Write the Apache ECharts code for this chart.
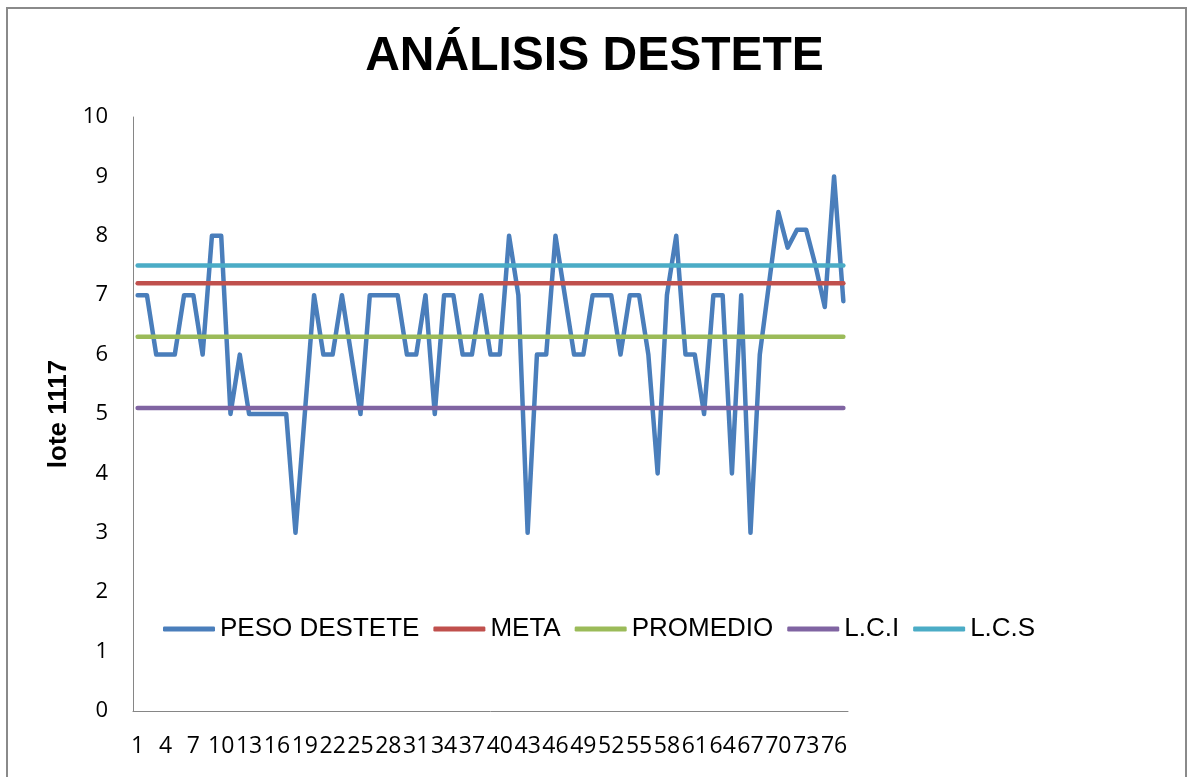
<!DOCTYPE html>
<html>
<head>
<meta charset="utf-8">
<title>ANÁLISIS DESTETE</title>
<script src="https://cdn.jsdelivr.net/npm/echarts/dist/echarts.min.js"></script>
<style>
  html, body { margin: 0; padding: 0; background: #fff; }
  #chart { width: 1189px; height: 777px; }
</style>
</head>
<body>
<div id="chart"></div>
<script>
// valores
const lotes = Array.from({ length: 77 }, (_, i) => String(i + 1));
const pesoDestete = [
  7, 7, 6, 6, 6, 7, 7, 6, 8, 8,
  5, 6, 5, 5, 5, 5, 5, 3, 5, 7,
  6, 6, 7, 6, 5, 7, 7, 7, 7, 6,
  6, 7, 5, 7, 7, 6, 6, 7, 6, 6,
  8, 7, 3, 6, 6, 8, 7, 6, 6, 7,
  7, 7, 6, 7, 7, 6, 4, 7, 8, 6,
  6, 5, 7, 7, 4, 7, 3, 6, 7.2, 8.4,
  7.8, 8.1, 8.1, 7.5, 6.8, 9, 6.9
];
const meta = 7.2;
const promedio = 6.3;
const lci = 5.1;
const lcs = 7.5;

const chart = echarts.init(document.getElementById('chart'));

function lineSeries(name, data, color) {
  return {
    name: name,
    type: 'line',
    data: data,
    showSymbol: false,
    symbol: 'none',
    color: color,
    lineStyle: { width: 4.5, color: color, cap: 'round', join: 'round' },
    emphasis: { disabled: true }
  };
}

const option = {
  animation: false,
  backgroundColor: '#fff',
  title: {
    text: 'ANÁLISIS DESTETE',
    left: 'center',
    top: 28,
    textStyle: {
      fontFamily: 'Liberation Sans, Arial, sans-serif',
      fontSize: 48,
      fontWeight: 'bold',
      color: '#000'
    }
  },
  legend: {
    left: 158,
    top: 611,
    itemWidth: 52,
    itemHeight: 5,
    itemGap: 14,
    icon: 'roundRect',
    textStyle: {
      fontFamily: 'Liberation Sans, Arial, sans-serif',
      fontSize: 26,
      color: '#000'
    },
    data: ['PESO DESTETE', 'META', 'PROMEDIO', 'L.C.I', 'L.C.S']
  },
  grid: { left: 133, right: 341, top: 117, bottom: 66 },
  xAxis: {
    type: 'category',
    data: lotes,
    boundaryGap: true,
    axisLine: { lineStyle: { color: '#868686', width: 1 } },
    axisTick: { show: false },
    axisLabel: {
      interval: 2,
      margin: 24,
      fontFamily: 'Open Sans, sans-serif',
      fontSize: 23,
      color: '#000'
    }
  },
  yAxis: {
    type: 'value',
    min: 0,
    max: 10,
    interval: 1,
    name: 'lote 1117',
    nameLocation: 'middle',
    nameRotate: 90,
    nameGap: 46,
    nameTextStyle: {
      fontFamily: 'Liberation Sans, Arial, sans-serif',
      fontSize: 26,
      fontWeight: 'bold',
      color: '#000'
    },
    axisLine: { show: true, lineStyle: { color: '#868686', width: 1 } },
    axisTick: { show: false },
    splitLine: { show: false },
    axisLabel: {
      margin: 25,
      fontFamily: 'Open Sans, sans-serif',
      fontSize: 22,
      color: '#000'
    }
  },
  graphic: [{
    type: 'rect',
    shape: { x: 7, y: 8, width: 1179, height: 800 },
    style: { fill: 'none', stroke: '#8a8a8a', lineWidth: 2 },
    silent: true
  }],
  series: [
    lineSeries('PESO DESTETE', pesoDestete, '#4a7ebb'),
    lineSeries('META', lotes.map(() => meta), '#c0504d'),
    lineSeries('PROMEDIO', lotes.map(() => promedio), '#9bbb59'),
    lineSeries('L.C.I', lotes.map(() => lci), '#8064a2'),
    lineSeries('L.C.S', lotes.map(() => lcs), '#4bacc6')
  ]
};

chart.setOption(option);
</script>
</body>
</html>
